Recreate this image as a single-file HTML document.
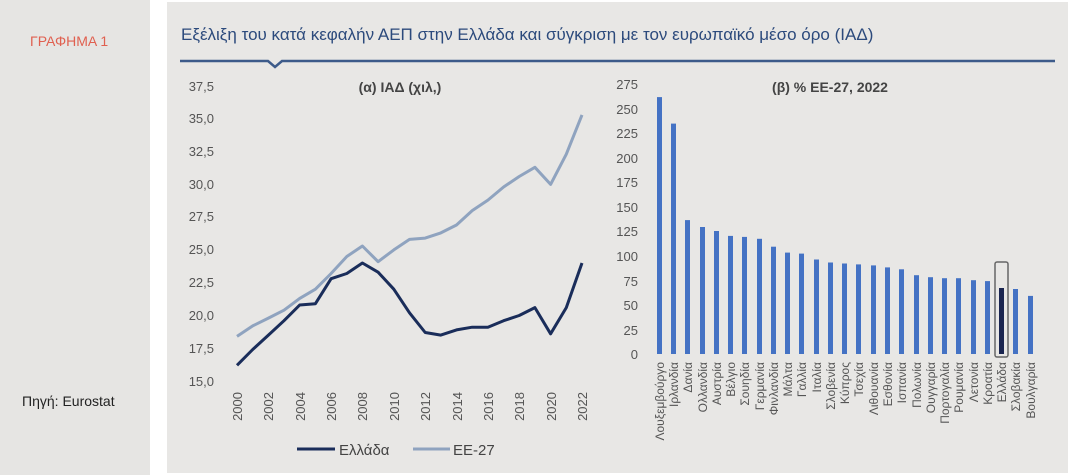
<!DOCTYPE html>
<html><head><meta charset="utf-8"><style>
body{margin:0;width:1068px;height:475px;background:#fff;overflow:hidden}
svg{display:block}
text{font-family:"Liberation Sans",sans-serif}
</style></head><body>
<svg width="1068" height="475" viewBox="0 0 1068 475">
<rect x="0" y="0" width="150" height="475" fill="#e6e5e3"/>
<rect x="167" y="2" width="901" height="471" fill="#e8e7e5"/>
<text x="30" y="46" font-size="14" fill="#e06050">ΓΡΑΦΗΜΑ 1</text>
<text x="22" y="406" font-size="14" fill="#222">Πηγή: Eurostat</text>
<text x="181" y="40" font-size="17" fill="#2c4a7c">Εξέλιξη του κατά κεφαλήν ΑΕΠ στην Ελλάδα και σύγκριση με τον ευρωπαϊκό μέσο όρο (ΙΑΔ)</text>
<polyline points="180,61 268,61 275,67 282,61 1055,61" fill="none" stroke="#3d5b8a" stroke-width="2.5"/>
<g font-size="13" fill="#555" text-anchor="end">
<text x="214" y="91">37,5</text><text x="214" y="123">35,0</text><text x="214" y="156">32,5</text>
<text x="214" y="189">30,0</text><text x="214" y="221">27,5</text><text x="214" y="254">25,0</text>
<text x="214" y="287">22,5</text><text x="214" y="320">20,0</text><text x="214" y="353">17,5</text>
<text x="214" y="386">15,0</text>
</g>
<text x="400" y="92" font-size="14" font-weight="bold" fill="#444" text-anchor="middle">(α) ΙΑΔ (χιλ,)</text>
<g font-size="13" fill="#555" text-anchor="end">
<text transform="translate(242,392) rotate(-90)">2000</text>
<text transform="translate(273,392) rotate(-90)">2002</text>
<text transform="translate(305,392) rotate(-90)">2004</text>
<text transform="translate(336,392) rotate(-90)">2006</text>
<text transform="translate(367,392) rotate(-90)">2008</text>
<text transform="translate(399,392) rotate(-90)">2010</text>
<text transform="translate(430,392) rotate(-90)">2012</text>
<text transform="translate(462,392) rotate(-90)">2014</text>
<text transform="translate(493,392) rotate(-90)">2016</text>
<text transform="translate(524,392) rotate(-90)">2018</text>
<text transform="translate(556,392) rotate(-90)">2020</text>
<text transform="translate(587,392) rotate(-90)">2022</text>
</g>
<polyline fill="none" stroke="#8fa3bf" stroke-width="3" stroke-linejoin="round" points="237,336.4 252.7,325.9 268.4,318.1 284,310.2 299.7,298.4 315.4,289.2 331.1,273.5 346.8,256.5 362.4,246 378.1,261.7 393.8,249.9 409.5,239.4 425.2,238.1 440.8,232.9 456.5,225 472.2,210.6 487.9,200.1 503.6,187 519.2,176.5 534.9,167.3 550.6,184.4 566.3,154.2 582,114.9"/>
<polyline fill="none" stroke="#1a2d5a" stroke-width="3" stroke-linejoin="round" points="237,365.3 252.7,349.5 268.4,335.1 284,320.7 299.7,305 315.4,303.7 331.1,278.7 346.8,273.5 362.4,263 378.1,272.2 393.8,289.2 409.5,312.8 425.2,332.5 440.8,335.1 456.5,329.9 472.2,327.2 487.9,327.2 503.6,320.7 519.2,315.5 534.9,307.6 550.6,333.8 566.3,307.6 582,263"/>
<line x1="297" y1="449" x2="335" y2="449" stroke="#1a2d5a" stroke-width="3"/>
<text x="339" y="455" font-size="15" fill="#444">Ελλάδα</text>
<line x1="413" y1="449" x2="450" y2="449" stroke="#8fa3bf" stroke-width="3"/>
<text x="453" y="455" font-size="15" fill="#444">ΕΕ-27</text>
<g font-size="13" fill="#555" text-anchor="end">
<text x="638" y="89">275</text><text x="638" y="114">250</text><text x="638" y="138">225</text>
<text x="638" y="163">200</text><text x="638" y="187">175</text><text x="638" y="212">150</text>
<text x="638" y="236">125</text><text x="638" y="261">100</text><text x="638" y="286">75</text>
<text x="638" y="310">50</text><text x="638" y="335">25</text><text x="638" y="359">0</text>
</g>
<text x="830" y="92" font-size="14" font-weight="bold" fill="#444" text-anchor="middle">(β) % ΕΕ-27, 2022</text>
<g fill="#4472c4">
<rect x="657" y="97.1" width="5" height="256.9"/>
<rect x="671" y="123.6" width="5" height="230.4"/>
<rect x="685" y="220.1" width="5" height="133.9"/>
<rect x="700" y="227" width="5" height="127"/>
<rect x="714" y="231" width="5" height="123"/>
<rect x="728" y="235.9" width="5" height="118.1"/>
<rect x="742" y="236.9" width="5" height="117.1"/>
<rect x="757" y="238.8" width="5" height="115.2"/>
<rect x="771" y="246.7" width="5" height="107.3"/>
<rect x="785" y="252.6" width="5" height="101.4"/>
<rect x="799" y="253.6" width="5" height="100.4"/>
<rect x="814" y="259.5" width="5" height="94.5"/>
<rect x="828" y="262.5" width="5" height="91.5"/>
<rect x="842" y="263.5" width="5" height="90.5"/>
<rect x="856" y="264.4" width="5" height="89.6"/>
<rect x="871" y="265.4" width="5" height="88.6"/>
<rect x="885" y="267.4" width="5" height="86.6"/>
<rect x="899" y="269.3" width="5" height="84.7"/>
<rect x="914" y="275.2" width="5" height="78.8"/>
<rect x="928" y="277.2" width="5" height="76.8"/>
<rect x="942" y="278.2" width="5" height="75.8"/>
<rect x="956" y="278.2" width="5" height="75.8"/>
<rect x="971" y="280.2" width="5" height="73.8"/>
<rect x="985" y="281.1" width="5" height="72.9"/>
<rect x="1013" y="289" width="5" height="65"/>
<rect x="1028" y="295.9" width="5" height="58.1"/>
</g>
<rect x="999" y="288" width="5" height="66" fill="#1a2550"/>
<rect x="995" y="262" width="13" height="95" rx="2" fill="none" stroke="#666" stroke-width="1.5"/>
<g font-size="12" fill="#555" text-anchor="end">
<text transform="translate(664,362) rotate(-90)">Λουξεμβούργο</text>
<text transform="translate(678,362) rotate(-90)">Ιρλανδία</text>
<text transform="translate(692,362) rotate(-90)">Δανία</text>
<text transform="translate(707,362) rotate(-90)">Ολλανδία</text>
<text transform="translate(721,362) rotate(-90)">Αυστρία</text>
<text transform="translate(735,362) rotate(-90)">Βέλγιο</text>
<text transform="translate(749,362) rotate(-90)">Σουηδία</text>
<text transform="translate(764,362) rotate(-90)">Γερμανία</text>
<text transform="translate(778,362) rotate(-90)">Φινλανδία</text>
<text transform="translate(792,362) rotate(-90)">Μάλτα</text>
<text transform="translate(806,362) rotate(-90)">Γαλλία</text>
<text transform="translate(821,362) rotate(-90)">Ιταλία</text>
<text transform="translate(835,362) rotate(-90)">Σλοβενία</text>
<text transform="translate(849,362) rotate(-90)">Κύπρος</text>
<text transform="translate(863,362) rotate(-90)">Τσεχία</text>
<text transform="translate(878,362) rotate(-90)">Λιθουανία</text>
<text transform="translate(892,362) rotate(-90)">Εσθονία</text>
<text transform="translate(906,362) rotate(-90)">Ισπανία</text>
<text transform="translate(921,362) rotate(-90)">Πολωνία</text>
<text transform="translate(935,362) rotate(-90)">Ουγγαρία</text>
<text transform="translate(949,362) rotate(-90)">Πορτογαλία</text>
<text transform="translate(963,362) rotate(-90)">Ρουμανία</text>
<text transform="translate(978,362) rotate(-90)">Λετονία</text>
<text transform="translate(992,362) rotate(-90)">Κροατία</text>
<text transform="translate(1006,362) rotate(-90)">Ελλάδα</text>
<text transform="translate(1020,362) rotate(-90)">Σλοβακία</text>
<text transform="translate(1035,362) rotate(-90)">Βουλγαρία</text>
</g>
</svg>
</body></html>
